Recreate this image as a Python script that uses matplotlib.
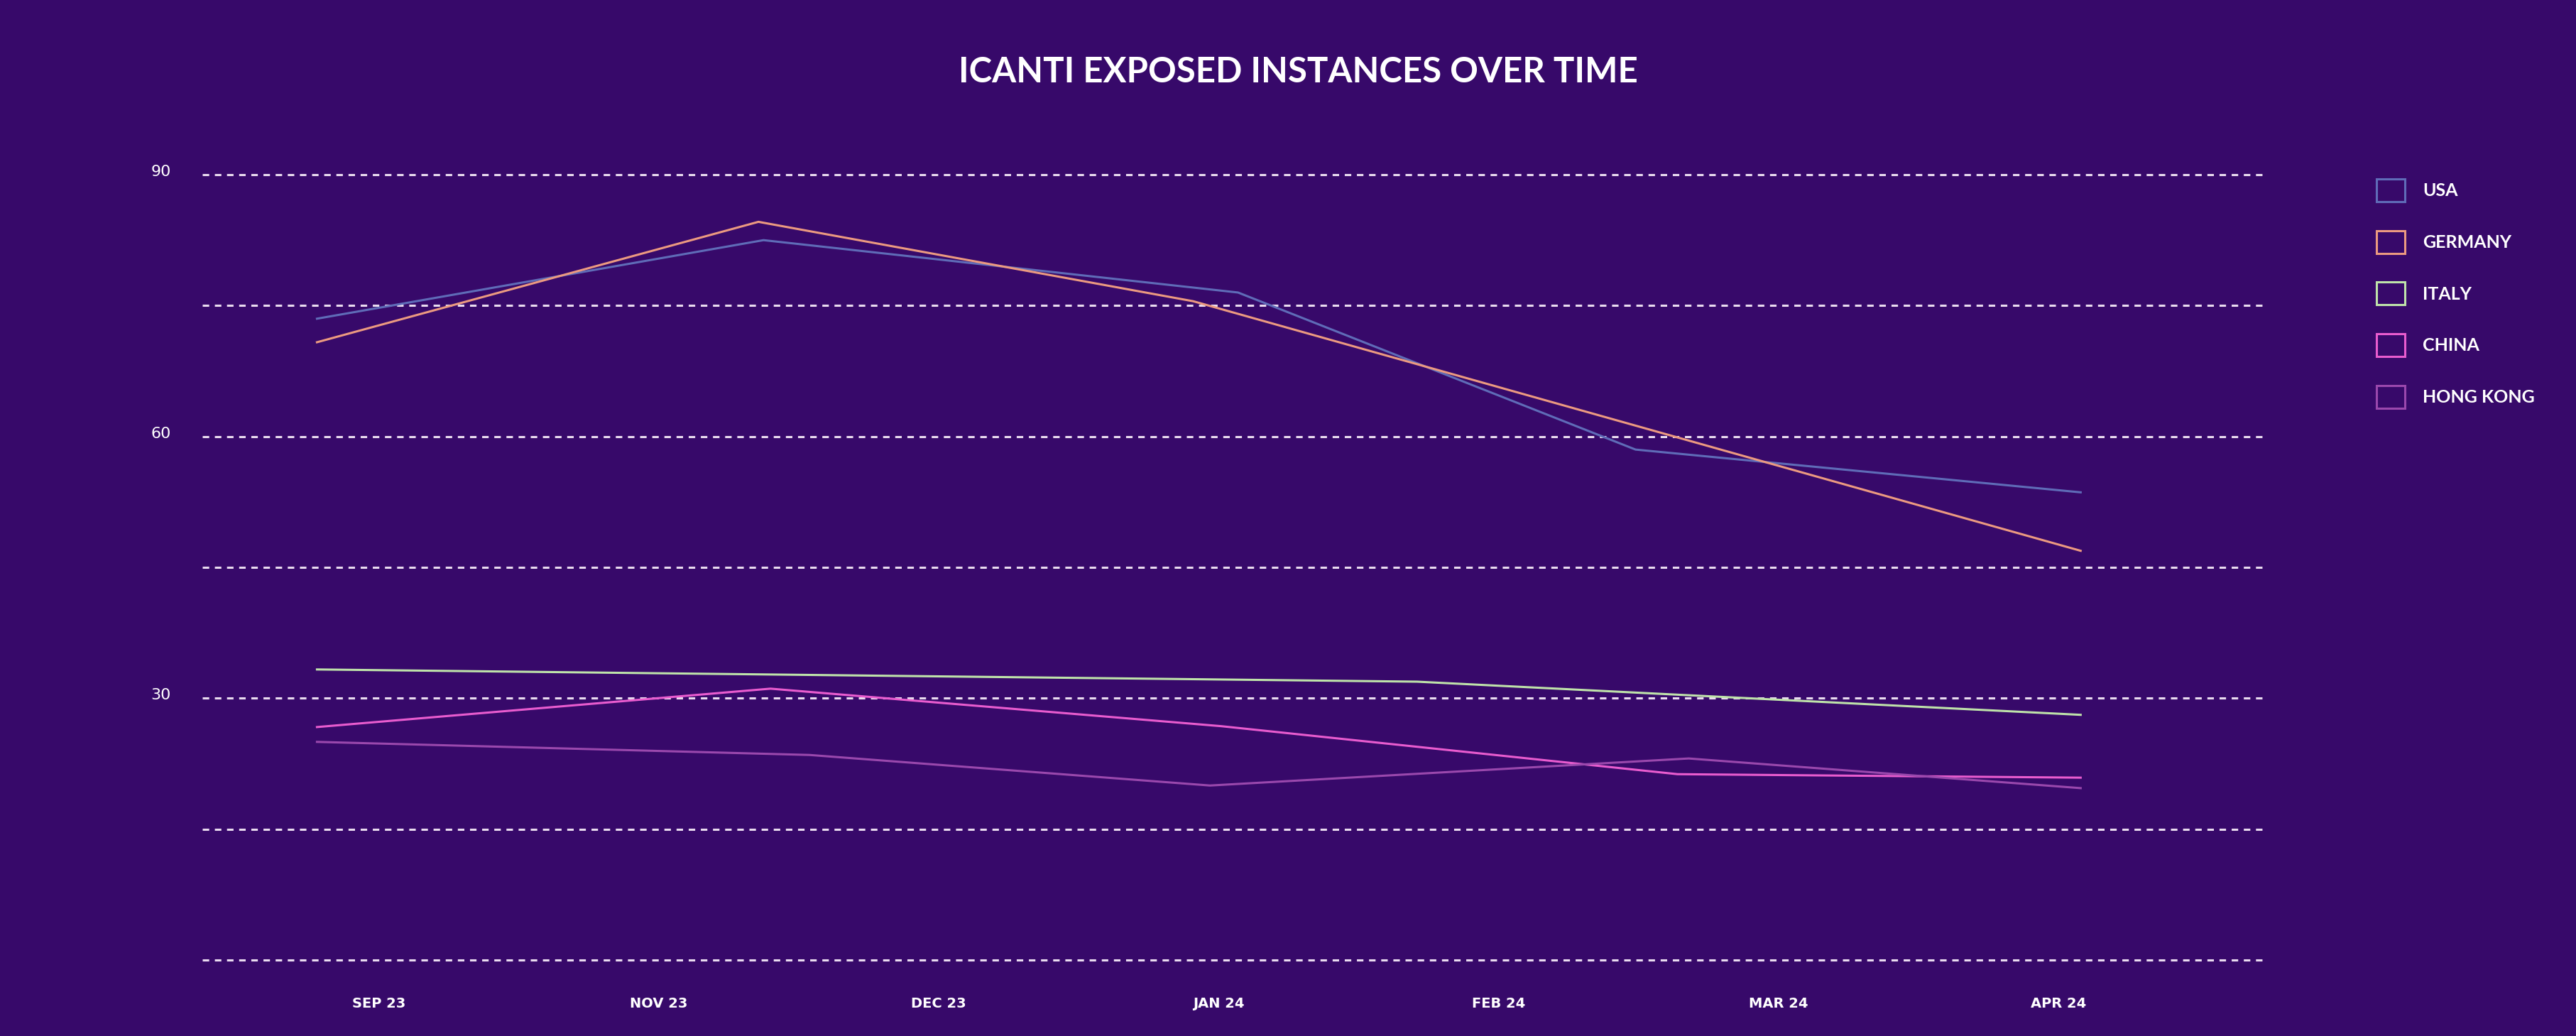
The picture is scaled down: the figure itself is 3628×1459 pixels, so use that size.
import matplotlib
matplotlib.use('Agg')
import matplotlib.pyplot as plt
import matplotlib.transforms as mtransforms
from matplotlib.patches import Patch

bg = '#37096a'

months = ['SEP 23', 'NOV 23', 'DEC 23', 'JAN 24', 'FEB 24', 'MAR 24', 'APR 24']
countries = ['USA', 'GERMANY', 'ITALY', 'CHINA', 'HONG KONG']
colors = ['#5f6cb8', '#ec9a80', '#bfe3aa', '#e95ccf', '#9a48ad']

# x given in month-label units (points do not sit on the labels)
usa_x = [-0.22, 1.375, 3.07, 4.49, 6.08]
usa_y = [73.5, 82.5, 76.5, 58.5, 53.6]
germany_x = [-0.22, 1.357, 2.91, 6.08]
germany_y = [70.8, 84.6, 75.5, 46.9]
italy_x = [-0.22, 3.71, 6.08]
italy_y = [33.3, 31.9, 28.1]
china_x = [-0.22, 1.40, 3.01, 4.64, 6.08]
china_y = [26.7, 31.1, 26.8, 21.3, 20.9]
hk_x = [-0.22, 1.54, 2.97, 4.68, 6.08]
hk_y = [25.0, 23.5, 20.0, 23.1, 19.7]

series = [(usa_x, usa_y), (germany_x, germany_y), (italy_x, italy_y),
          (china_x, china_y), (hk_x, hk_y)]

fig = plt.figure(figsize=(18.14, 7.295), dpi=200, facecolor=bg)
ax = fig.add_axes([0.0786, 0.0607, 0.8004, 0.7833])
ax.set_facecolor(bg)

for (xs, ys), c, name in zip(series, colors, countries):
    ax.plot(xs, ys, color=c, lw=1.1, label=name, zorder=3)

for v in range(0, 91, 15):
    ax.axhline(v, color='#eadcf0', lw=1.1, ls=(0, (3, 2.6)), zorder=1)

ax.set_xlim(-0.629, 6.736)
ax.set_ylim(-1.5, 91.5)
ax.set_xticks(range(len(months)))
ax.set_xticklabels(months)
ax.set_yticks([30, 60, 90])
ax.set_yticklabels(['30', '60', '90'])
for s in ax.spines.values():
    s.set_visible(False)
ax.tick_params(axis='x', length=0, pad=12, colors='white', labelsize=7)
ax.tick_params(axis='y', length=0, pad=16, colors='white', labelsize=8)
for lb in ax.get_xticklabels():
    lb.set_family(['Liberation Sans Narrow', 'DejaVu Sans'])
    lb.set_fontweight('bold')
lift = mtransforms.ScaledTranslation(0, 6 / 200, fig.dpi_scale_trans)
for lb in ax.get_yticklabels():
    lb.set_family(['Liberation Sans Narrow', 'DejaVu Sans'])
    lb.set_va('center_baseline')
    lb.set_transform(lb.get_transform() + lift)

fig.text(0.504, 1 - 101 / 1459, 'ICANTI EXPOSED INSTANCES OVER TIME',
         ha='center', va='center', color='white', fontsize=17.7,
         fontweight='bold', family=['Lato', 'DejaVu Sans'])

handles = [Patch(facecolor='none', edgecolor=c, lw=1.1) for c in colors]
leg = fig.legend(handles, countries, loc='upper left',
                 bbox_to_anchor=(3347 / 3628, 1 - 252 / 1459),
                 frameon=False, borderpad=0, borderaxespad=0,
                 handlelength=1.6, handleheight=1.6, handletextpad=1.0,
                 labelspacing=1.62,
                 prop={'family': ['Lato', 'DejaVu Sans'], 'weight': 'bold', 'size': 9})
for t in leg.get_texts():
    t.set_color('white')

fig.savefig('out.png', dpi=200, facecolor=bg)
